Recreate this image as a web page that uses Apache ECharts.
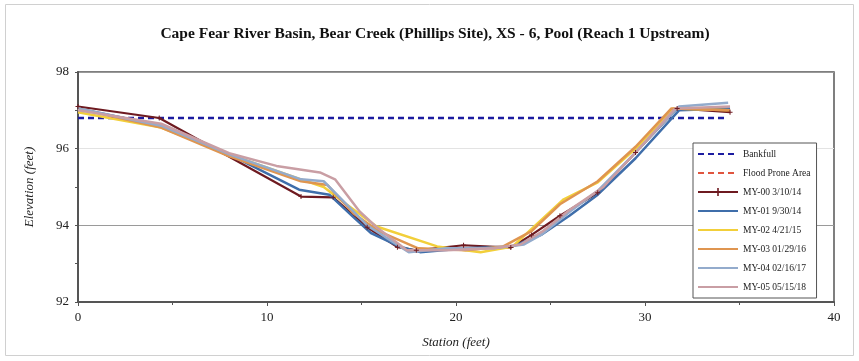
<!DOCTYPE html>
<html>
<head>
<meta charset="utf-8">
<script src="https://cdn.jsdelivr.net/npm/echarts@6/dist/echarts.min.js"></script>
<style>
  html, body { margin: 0; padding: 0; background: #fff; }
  #chart { width: 859px; height: 361px; }
</style>
</head>
<body>
<div id="chart"></div>
<script>
// Cross-section survey: station (ft) vs elevation (ft)
const titleText = 'Cape Fear River Basin, Bear Creek (Phillips Site), XS - 6, Pool (Reach 1 Upstream)';
const xTicks = { min: 0, max: 40, interval: 10 };
const yTicks = { min: 92, max: 98, interval: 2 };

const bankfull = [[0, 96.8], [34.2, 96.8]];
const floodProne = [];

const my00 = [[0, 97.1], [4.3, 96.8], [11.8, 94.75], [13.5, 94.73], [15.3, 93.95], [16.9, 93.43],
  [17.9, 93.35], [20.4, 93.48], [22.9, 93.42], [24.0, 93.75], [25.5, 94.25], [27.5, 94.85],
  [29.5, 95.9], [31.7, 97.05], [34.5, 96.95]];
const my01 = [[0, 97.05], [4.4, 96.6], [8, 95.85], [11.7, 94.93], [13.3, 94.8], [14.6, 94.2],
  [15.5, 93.8], [17, 93.45], [18.1, 93.3], [20.5, 93.4], [23, 93.45], [24.5, 93.75], [26, 94.25],
  [27.5, 94.8], [29.5, 95.75], [31.8, 97.0], [34.5, 97.05]];
const my02 = [[0, 96.95], [4.4, 96.55], [8, 95.85], [11.8, 95.2], [13.0, 95.0], [14.2, 94.55],
  [15.8, 93.97], [19, 93.45], [21.3, 93.3], [23, 93.45], [24.2, 94.0], [25.7, 94.68], [27.5, 95.12],
  [29.5, 96.0], [31.5, 97.05], [34.5, 97.0]];
const my03 = [[0, 97.05], [4.4, 96.55], [8, 95.8], [11.8, 95.15], [13.2, 95.05], [14.6, 94.3],
  [15.9, 93.85], [18, 93.4], [20.5, 93.35], [22.5, 93.45], [24, 93.85], [25.5, 94.55], [27.5, 95.15],
  [29.5, 96.05], [31.4, 97.05], [34.5, 97.0]];
const my04 = [[0, 97.05], [4.4, 96.6], [8, 95.85], [11.8, 95.2], [13.0, 95.15], [14.3, 94.5],
  [15.3, 94.0], [17.5, 93.3], [19.5, 93.4], [22, 93.4], [23.6, 93.5], [24.5, 93.75], [26, 94.35],
  [27.5, 94.9], [29.3, 95.8], [31.8, 97.1], [34.4, 97.2]];
const my05 = [[0, 97.0], [4.4, 96.65], [8, 95.88], [10.5, 95.55], [12.8, 95.38], [13.6, 95.2],
  [14.9, 94.36], [15.8, 93.95], [17.4, 93.35], [19.5, 93.35], [22, 93.4], [23.4, 93.5], [24.6, 93.85],
  [26, 94.4], [27.8, 95.0], [29.5, 95.9], [31.6, 97.05], [34.5, 97.1]];

const legendNames = ['Bankfull', 'Flood Prone Area', 'MY-00 3/10/14', 'MY-01 9/30/14', 'MY-02 4/21/15',
  'MY-03 01/29/16', 'MY-04 02/16/17', 'MY-05 05/15/18'];

const serif = '"Liberation Serif", "DejaVu Serif", serif';
const plusMark = 'path://M4,0H6V4H10V6H6V10H4V6H0V4H4Z';

function profile(name, data, color, extra) {
  return Object.assign({
    name: name,
    type: 'line',
    data: data,
    symbol: 'none',
    smooth: false,
    lineStyle: { color: color, width: 2.5 },
    itemStyle: { color: color }
  }, extra || {});
}

const chart = echarts.init(document.getElementById('chart'), null, { renderer: 'canvas' });
chart.setOption({
  animation: false,
  backgroundColor: '#fff',
  title: {
    text: titleText,
    left: 430, top: 21, textAlign: 'center',
    textStyle: { fontFamily: serif, fontWeight: 'bold', fontSize: 15.5, color: '#111' }
  },
  graphic: [{
    type: 'rect', silent: true, z: -1,
    shape: { x: 5.5, y: 4.5, width: 848, height: 351 },
    style: { fill: 'none', stroke: '#d0d0d0', lineWidth: 1 }
  }],
  grid: {
    left: 78, right: 25, top: 72, bottom: 59,
    show: true, borderColor: '#555', borderWidth: 1.5, backgroundColor: '#fff'
  },
  legend: {
    orient: 'vertical', left: 693, top: 143,
    itemWidth: 40, itemHeight: 10, itemGap: 9,
    padding: [6, 6, 6, 4],
    backgroundColor: '#fff', borderColor: '#555', borderWidth: 1,
    textStyle: { fontFamily: serif, fontSize: 9.5, color: '#222', lineHeight: 10 },
    data: legendNames.map(function (n) {
      // only the MY-00 survey carries a point marker in its key
      return n === 'MY-00 3/10/14' ? { name: n } : { name: n, itemStyle: { opacity: 0 } };
    })
  },
  xAxis: {
    type: 'value', min: xTicks.min, max: xTicks.max, interval: xTicks.interval,
    name: 'Station (feet)', nameLocation: 'middle', nameGap: 34,
    nameTextStyle: { fontFamily: serif, fontStyle: 'italic', fontSize: 13, color: '#222' },
    axisLine: { lineStyle: { color: '#555', width: 2 } },
    axisTick: { show: true, length: 4, lineStyle: { color: '#555' } },
    minorTick: { show: true, splitNumber: 2, length: 3, lineStyle: { color: '#555' } },
    axisLabel: { fontFamily: serif, fontSize: 13, color: '#222', margin: 9 },
    splitLine: { show: false }
  },
  yAxis: {
    type: 'value', min: yTicks.min, max: yTicks.max, interval: yTicks.interval,
    name: 'Elevation (feet)', nameLocation: 'middle', nameGap: 42, nameRotate: 90,
    nameTextStyle: { fontFamily: serif, fontStyle: 'italic', fontSize: 13, color: '#222' },
    axisLine: { show: true, lineStyle: { color: '#555', width: 2 } },
    axisTick: { show: true, length: 3, lineStyle: { color: '#555' } },
    minorTick: { show: true, splitNumber: 2, length: 3, lineStyle: { color: '#555' } },
    axisLabel: { fontFamily: serif, fontSize: 13, color: '#222', margin: 9 },
    splitLine: { show: true, lineStyle: { color: ['#999', '#9a9a9a', '#e3e3e3', '#999'], width: 1 } }
  },
  series: [
    profile('Bankfull', bankfull, '#1c1ca0', { lineStyle: { color: '#1c1ca0', width: 2.5, type: [6, 4] }, z: 3 }),
    profile('Flood Prone Area', floodProne, '#e0553f', { lineStyle: { color: '#e0553f', width: 2.5, type: [6, 4] } }),
    profile('MY-00 3/10/14', my00, '#6e1a20', {
      symbol: plusMark, symbolSize: 5, showSymbol: true, lineStyle: { color: '#6e1a20', width: 2.2 }
    }),
    profile('MY-01 9/30/14', my01, '#3f6eaa'),
    profile('MY-02 4/21/15', my02, '#f2cf3a'),
    profile('MY-03 01/29/16', my03, '#df9550'),
    profile('MY-04 02/16/17', my04, '#93abcc'),
    profile('MY-05 05/15/18', my05, '#c99ea4')
  ]
});
</script>
</body>
</html>
